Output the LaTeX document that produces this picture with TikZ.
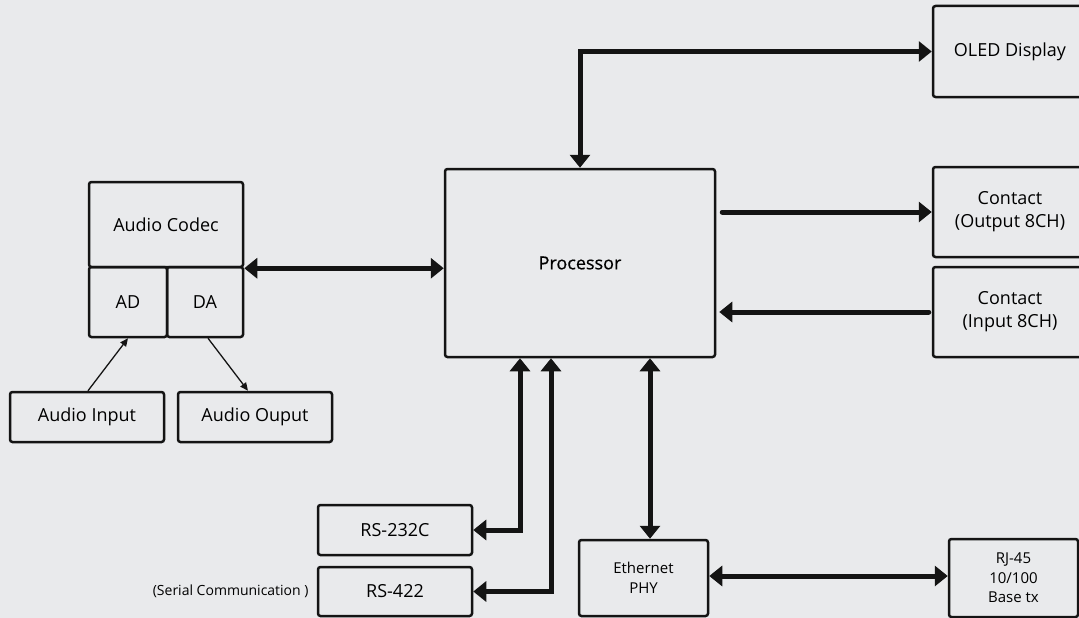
\documentclass[tikz,border=0pt]{standalone}
\usepackage{fontspec}
\setmainfont{Open Sans}
\newfontfamily\procfont[FakeBold=0.6]{Open Sans}
\usetikzlibrary{arrows.meta,positioning}
\definecolor{bgc}{HTML}{E9EAEC}
\definecolor{ink}{HTML}{141414}
\begin{document}
\begin{tikzpicture}[x=1pt, y=-1pt,
  box/.style={draw=ink, line width=2.5pt, rounded corners=2.5pt, inner sep=0pt, align=center, text=black, font=\fontsize{18}{23}\selectfont},
  smallbox/.style={box, font=\fontsize{15}{19.5}\selectfont},
  smalltxt/.style={text=black, inner sep=0pt, font=\fontsize{14}{16}\selectfont},
  bus/.style={draw=ink, line width=5pt, line cap=round},
  dbl/.style={bus, {Triangle[length=13pt,width=20pt]}-{Triangle[length=13pt,width=20pt]}},
  one/.style={bus, -{Triangle[length=13pt,width=20pt]}},
  sigline/.style={draw=ink, line width=1.3pt, -{Triangle[length=8pt,width=7pt]}}]
\useasboundingbox (0,0) rectangle (1079,618);
\fill[bgc] (0,0) rectangle (1079,618);
\node[box, minimum width=270pt, minimum height=188pt, font=\procfont\fontsize{18}{23}\selectfont] (proc) at (580,263) {Processor};
\node[box, minimum width=154pt, minimum height=91pt] (oled) at (1010,51.5) {OLED Display};
\node[box, minimum width=154pt, minimum height=90pt] (cout) at (1010,212) {Contact\\(Output 8CH)};
\node[box, minimum width=154pt, minimum height=90pt] (cin) at (1010,312) {Contact\\(Input 8CH)};
\node[box, minimum width=154pt, minimum height=85pt] (codec) at (166,224.5) {Audio Codec};
\node[box, minimum width=78pt, minimum height=70pt] (ad) at (128,302) {AD};
\node[box, minimum width=76pt, minimum height=70pt] (da) at (205,302) {DA};
\node[box, minimum width=154pt, minimum height=50pt] (ain) at (87,417) {Audio Input};
\node[box, minimum width=154pt, minimum height=50pt] (aout) at (255,417) {Audio Ouput};
\node[box, minimum width=154pt, minimum height=50pt] (rs232) at (395,530) {RS-232C};
\node[box, minimum width=154pt, minimum height=49pt] (rs422) at (395,591.5) {RS-422};
\node[smalltxt, left=8pt of rs422] (serial) {(Serial Communication )};
\node[smallbox, minimum width=129pt, minimum height=76pt] (eth) at (643.5,578) {Ethernet\\PHY};
\node[smallbox, minimum width=129pt, minimum height=78pt] (rj) at (1013.5,578) {RJ-45\\10/100\\Base tx};
\draw[dbl] (proc.north) |- (oled.west);
\draw[one] ([xshift=6pt]proc.east |- cout.west) -- (cout.west);
\draw[one] ([xshift=-3pt]cin.west) -- ([xshift=3pt]cin.west -| proc.east);
\draw[dbl] (codec.south east) -- (codec.south east -| proc.west);
\draw[sigline] ([xshift=1pt]ain.north) -- (ad.south);
\draw[sigline] ([xshift=3pt]da.south) -- ([xshift=-7pt]aout.north);
\draw[dbl] ([xshift=-60pt]proc.south) |- (rs232.east);
\draw[dbl] ([xshift=-29pt]proc.south) |- (rs422.east);
\draw[dbl] ([xshift=70pt]proc.south) -- ([xshift=70pt]proc.south |- eth.north);
\draw[dbl] ([yshift=2pt]eth.east) -- ([yshift=2pt]rj.west);
\end{tikzpicture}
\end{document}
